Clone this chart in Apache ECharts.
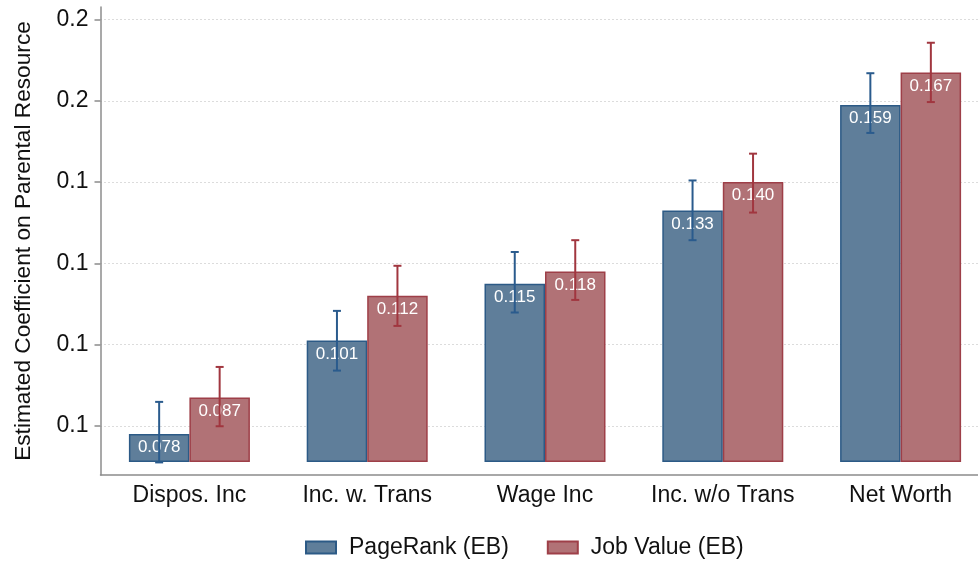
<!DOCTYPE html>
<html lang="en">
<head>
    <meta charset="UTF-8">
    <title>Estimated Coefficient on Parental Resource</title>
    <script src="https://cdn.jsdelivr.net/npm/echarts@6/dist/echarts.min.js"></script>
    <style>
        html, body { margin: 0; padding: 0; background: #fff; }
    </style>
</head>
<body>
<div id="main" style="width: 978px;height:562px;"></div>

<script type="text/javascript">
    // data
    var categories = ['Dispos. Inc', 'Inc. w. Trans', 'Wage Inc', 'Inc. w/o Trans', 'Net Worth'];
    var pageRank = [0.078, 0.101, 0.115, 0.133, 0.159];
    var jobValue = [0.087, 0.112, 0.118, 0.140, 0.167];
    // confidence intervals (low, high)
    var pageRankLo = [0.0710, 0.0936, 0.1079, 0.1257, 0.1521];
    var pageRankHi = [0.0859, 0.1083, 0.1228, 0.1404, 0.1668];
    var jobValueLo = [0.0799, 0.1046, 0.1110, 0.1325, 0.1597];
    var jobValueHi = [0.0945, 0.1194, 0.1257, 0.1470, 0.1743];
    // bars start from this value, not from zero
    var barBase = 0.0711;
    var yTickValues = [0.08, 0.10, 0.12, 0.14, 0.16, 0.18];
    var yTickLabels = ['0.1', '0.1', '0.1', '0.1', '0.2', '0.2'];

    var blueFill = '#5f7e9a', blueLine = '#2c5a86', blueErr = '#2a5b8d';
    var redFill = '#b17276', redLine = '#9e3f48', redErr = '#a1363f';
    var barW = 60.5;

    var myChart = echarts.init(document.getElementById('main'));

    function minus(arr) {
        return arr.map(function (v) { return +(v - barBase).toFixed(5); });
    }
    function baseArr() {
        return categories.map(function () { return barBase; });
    }
    function errData(lo, hi) {
        return lo.map(function (v, i) { return [i, v, hi[i]]; });
    }
    function errRender(offset, color) {
        return function (params, api) {
            var i = api.value(0);
            var p1 = api.coord([i, api.value(1)]);
            var p2 = api.coord([i, api.value(2)]);
            var x = p1[0] + offset;
            var cap = 4;
            var st = { stroke: color, lineWidth: 2 };
            return {
                type: 'group',
                children: [
                    { type: 'line', shape: { x1: x, y1: p1[1], x2: x, y2: p2[1] }, style: st },
                    { type: 'line', shape: { x1: x - cap, y1: p1[1], x2: x + cap, y2: p1[1] }, style: st },
                    { type: 'line', shape: { x1: x - cap, y1: p2[1], x2: x + cap, y2: p2[1] }, style: st }
                ]
            };
        };
    }
    function valueLabel(src) {
        return {
            show: true,
            position: 'insideTop',
            distance: 5,
            color: '#fff',
            fontSize: 17,
            fontFamily: 'Liberation Sans',
            formatter: function (p) { return src[p.dataIndex].toFixed(3); }
        };
    }

    var option = {
        animation: false,
        textStyle: { fontFamily: 'Liberation Sans' },
        grid: {
            left: 100.5,
            width: 889,
            top: 7,
            bottom: 87,
            containLabel: false,
            outerBoundsMode: 'none'
        },
        legend: {
            data: ['PageRank (EB)', 'Job Value (EB)'],
            top: 531,
            left: 300,
            icon: 'rect',
            itemWidth: 30,
            itemHeight: 12,
            itemGap: 38,
            textStyle: { fontSize: 23, color: '#111', padding: [0, 0, 0, 8] }
        },
        xAxis: {
            type: 'category',
            data: categories,
            axisLine: { lineStyle: { color: '#8c8c8c', width: 1.5 } },
            axisTick: { show: false },
            axisLabel: { fontSize: 23, color: '#111', margin: 9, interval: 0 }
        },
        yAxis: {
            type: 'value',
            min: 0.0679,
            max: 0.1831,
            name: 'Estimated Coefficient on Parental Resource',
            nameLocation: 'middle',
            nameGap: 65,
            nameTextStyle: { fontSize: 22.7, color: '#111' },
            axisLine: { show: true, lineStyle: { color: '#8c8c8c', width: 1.5 } },
            axisTick: {
                show: true,
                length: 6,
                customValues: yTickValues,
                lineStyle: { color: '#8c8c8c', width: 1.5 }
            },
            axisLabel: {
                fontSize: 23,
                color: '#111',
                margin: 12,
                customValues: yTickValues,
                formatter: function (v) {
                    var k = yTickValues.findIndex(function (t) { return Math.abs(t - v) < 1e-6; });
                    return k >= 0 ? yTickLabels[k] : '';
                }
            },
            splitLine: {
                show: true,
                customValues: yTickValues,
                lineStyle: { color: '#b8b8b8', type: [1, 3], width: 1 }
            }
        },
        series: [
            {
                name: 'base1', type: 'bar', stack: 'pr', barWidth: barW, barGap: '0%',
                data: baseArr(), itemStyle: { color: 'transparent' }, silent: true
            },
            {
                name: 'PageRank (EB)', type: 'bar', stack: 'pr', barWidth: barW, barGap: '0%',
                data: minus(pageRank),
                itemStyle: { color: blueFill, borderColor: blueLine, borderWidth: 1.5 },
                label: valueLabel(pageRank)
            },
            {
                name: 'base2', type: 'bar', stack: 'jv', barWidth: barW, barGap: '0%',
                data: baseArr(), itemStyle: { color: 'transparent' }, silent: true
            },
            {
                name: 'Job Value (EB)', type: 'bar', stack: 'jv', barWidth: barW, barGap: '0%',
                data: minus(jobValue),
                itemStyle: { color: redFill, borderColor: redLine, borderWidth: 1.5 },
                label: valueLabel(jobValue)
            },
            {
                name: 'pr_ci', type: 'custom', renderItem: errRender(-barW / 2, blueErr),
                data: errData(pageRankLo, pageRankHi), z: 5
            },
            {
                name: 'jv_ci', type: 'custom', renderItem: errRender(barW / 2, redErr),
                data: errData(jobValueLo, jobValueHi), z: 5
            }
        ]
    };

    myChart.setOption(option);
</script>
</body>
</html>
